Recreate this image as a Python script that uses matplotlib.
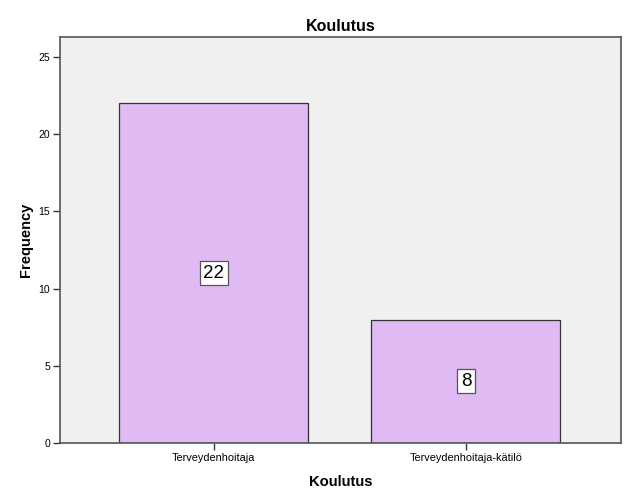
import matplotlib
matplotlib.use('Agg')
import matplotlib.pyplot as plt

categories = ['Terveydenhoitaja', 'Terveydenhoitaja-kätilö']
counts = [22, 8]
yticks = [0, 5, 10, 15, 20, 25]

plt.rcParams['font.family'] = ['Liberation Sans', 'DejaVu Sans']

fig = plt.figure(figsize=(6.29, 5.04), dpi=100)
ax = fig.add_axes([60/629, 61/504, 561/629, 406/504])
ax.set_facecolor('#F0F0F0')

x = list(range(len(categories)))
ax.bar(x, counts, width=0.75, color='#E0BAF2', edgecolor='#333333', linewidth=0.9)

for xi, c in zip(x, counts):
    ax.text(xi, c / 2, str(c), ha='center', va='center', fontsize=13.5,
            bbox=dict(boxstyle='square,pad=0.18', facecolor='white',
                      edgecolor='#555555', linewidth=0.9))

ax.set_xlim(-0.61, 1.615)
ax.set_ylim(0, 26.3)
ax.set_xticks(x)
ax.set_xticklabels(categories, fontsize=7.8)
ax.set_yticks(yticks)
ax.set_yticklabels([str(t) for t in yticks], fontsize=7.5)
ax.tick_params(direction='out', length=5, width=1, color='#333333', pad=2)

for s in ax.spines.values():
    s.set_color('#555555')
    s.set_linewidth(1.2)

ax.set_title('Koulutus', fontsize=11.5, fontweight='bold', pad=4)
ax.set_xlabel('Koulutus', fontsize=10.6, fontweight='bold', labelpad=9)
ax.set_ylabel('Frequency', fontsize=10.5, fontweight='bold', labelpad=4)

fig.savefig('out.png', dpi=100)
